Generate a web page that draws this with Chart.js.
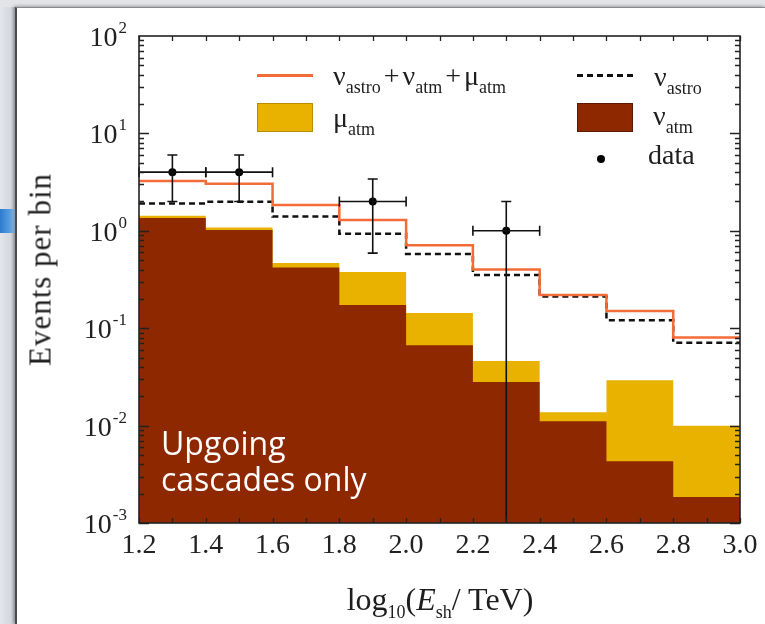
<!DOCTYPE html>
<html>
<head>
<meta charset="utf-8">
<script src="https://cdn.jsdelivr.net/npm/chart.js@4.4.1/dist/chart.umd.min.js"></script>
<style>
    html, body { margin: 0; padding: 0; }
    body {
        width: 765px; height: 624px; overflow: hidden; position: relative;
        background: linear-gradient(to right, #e4e6ea 0px, #d3d6dc 11px, #b9bdc4 14px);
        font-family: "Liberation Serif", serif;
    }
    #panel {
        position: absolute; left: 15px; top: 7px; right: 0; bottom: 0;
        background: #fff; border-left: 2px solid #4a4a4a; border-top: 1px solid #8a8a8a;
        box-shadow: -1px -1px 3px rgba(0, 0, 0, 0.3);
    }
    #topStrip { position: absolute; left: 0; top: 0; width: 765px; height: 7px; background: #e2e4e8; }
    #stripe {
        position: absolute; left: 0; top: 209px; width: 15px; height: 24px;
        background: linear-gradient(to right, #2c7bd0, #5d9fe0 70%, #9cc6ee);
    }
    #chartBox { position: absolute; left: 0; top: 0; width: 765px; height: 624px; }
    .txt { position: absolute; white-space: nowrap; color: #1e1e1e; line-height: 1; z-index: 2; }
    .txt sub { font-size: 18px; vertical-align: -8px; line-height: 0; }
    .txt .plus { margin: 0 3px; }
    .sym { position: absolute; z-index: 2; }
</style>
</head>
<body>
<div id="topStrip"></div>
<div id="stripe"></div>
<div id="panel"></div>
<div id="chartBox"><canvas id="spectrumChart" width="765" height="624"></canvas></div>

<!-- legend -->
<div class="sym" style="left:257px; top:74px; width:56px; height:3px; background:#f36c38;"></div>
<div class="txt" style="left:333px; top:62px; font-size:28px;">ν<sub>astro</sub><span class="plus">+</span>ν<sub>atm</sub><span class="plus">+</span>μ<sub>atm</sub></div>
<div class="sym" style="left:577px; top:74px; width:58px; height:3px; background:repeating-linear-gradient(to right, #111 0 6px, transparent 6px 10px);"></div>
<div class="txt" style="left:654px; top:63px; font-size:28px;">ν<sub>astro</sub></div>
<div class="sym" style="left:257px; top:103px; width:54px; height:27px; background:#e9b200; border:1px solid #b88c00;"></div>
<div class="txt" style="left:333px; top:104px; font-size:28px;">μ<sub>atm</sub></div>
<div class="sym" style="left:577px; top:103px; width:54px; height:27px; background:#8e2800; border:1px solid #5e1a00;"></div>
<div class="txt" style="left:653px; top:102px; font-size:28px;">ν<sub>atm</sub></div>
<div class="sym" style="left:597px; top:155px; width:8px; height:8px; border-radius:50%; background:#000;"></div>
<div class="txt" style="left:648px; top:141px; font-size:28px;">data</div>

<!-- axis titles -->
<div class="txt" style="left:-110px; top:254px; width:300px; text-align:center; font-size:31px; letter-spacing:1px; transform:rotate(-90deg);">Events per bin</div>
<div class="txt" style="left:240px; top:583px; width:400px; text-align:center; font-size:32px;">log<sub>10</sub>(<i>E</i><sub>sh</sub>/ TeV)</div>

<!-- annotation -->
<div class="txt" style="left:161px; top:425px; font-family:'Open Sans', sans-serif; font-size:32px; line-height:36px; color:#fff;">Upgoing<br>cascades only</div>

<script>
// bin edges in log10(E/TeV)
const binEdges = [1.2, 1.4, 1.6, 1.8, 2.0, 2.2, 2.4, 2.6, 2.8, 3.0];

// expected events per bin
const nuAtm    = [1.35, 1.02, 0.42, 0.173, 0.067, 0.028, 0.0111, 0.0043, 0.00185];
const muAtm    = [0.08, 0.06, 0.047, 0.205, 0.076, 0.018, 0.0026, 0.025, 0.0081];
const nuAstro  = [1.91, 1.99, 1.40, 0.93, 0.577, 0.352, 0.211, 0.121, 0.071];
const totalSum = [3.24, 3.05, 1.84, 1.29, 0.71, 0.40, 0.219, 0.150, 0.0805];

// observed data with error bars
const dataX   = [1.3, 1.5, 1.9, 2.3];
const dataY   = [4, 4, 2, 1];
const dataXLo = [1.2, 1.4, 1.8, 2.2];
const dataXHi = [1.4, 1.6, 2.0, 2.4];
const dataYLo = [2.0, 2.0, 0.59, 0];
const dataYHi = [6.0, 6.0, 3.4, 2.0];

const xTickLabels = [1.2, 1.4, 1.6, 1.8, 2.0, 2.2, 2.4, 2.6, 2.8, 3.0];
const yDecades = [-3, -2, -1, 0, 1, 2];

// histogram as step points: one per left edge plus the closing edge
function stepPoints(values) {
    return binEdges.map((x, i) => ({ x: x, y: values[Math.min(i, values.length - 1)] }));
}

const muStack = nuAtm.map((v, i) => v + muAtm[i]);

// error bars, inward ticks, frame and y labels
const framePlugin = {
    id: "frame",
    afterDatasetsDraw(chart) {
        const { ctx, chartArea: a, scales: { x, y } } = chart;
        ctx.save();
        ctx.strokeStyle = "#111";
        ctx.lineWidth = 1.6;
        dataX.forEach((v, i) => {
            const px = x.getPixelForValue(v);
            const py = y.getPixelForValue(dataY[i]);
            const x0 = x.getPixelForValue(dataXLo[i]);
            const x1 = x.getPixelForValue(dataXHi[i]);
            const yTop = y.getPixelForValue(dataYHi[i]);
            const yBot = dataYLo[i] > 0 ? y.getPixelForValue(dataYLo[i]) : a.bottom;
            ctx.beginPath();
            ctx.moveTo(x0, py); ctx.lineTo(x1, py);
            ctx.moveTo(x0, py - 5); ctx.lineTo(x0, py + 5);
            ctx.moveTo(x1, py - 5); ctx.lineTo(x1, py + 5);
            ctx.moveTo(px, yTop); ctx.lineTo(px, yBot);
            ctx.moveTo(px - 5, yTop); ctx.lineTo(px + 5, yTop);
            if (dataYLo[i] > 0) { ctx.moveTo(px - 5, yBot); ctx.lineTo(px + 5, yBot); }
            ctx.stroke();
        });
        ctx.restore();
    },
    afterDraw(chart) {
        const { ctx, chartArea: a, scales: { x, y } } = chart;
        ctx.save();
        ctx.strokeStyle = "#222";
        ctx.lineWidth = 1.3;
        ctx.beginPath();
        // x ticks every 0.1 on top and bottom
        for (let i = 0; i <= 18; i++) {
            const px = Math.round(x.getPixelForValue(1.2 + i * 0.1)) + 0.5;
            ctx.moveTo(px, a.bottom); ctx.lineTo(px, a.bottom - 5);
            ctx.moveTo(px, a.top); ctx.lineTo(px, a.top + 5);
        }
        // log ticks on left and right
        for (let k = -3; k <= 1; k++) {
            for (let m = 1; m <= 9; m++) {
                const py = Math.round(y.getPixelForValue(m * Math.pow(10, k))) + 0.5;
                const len = m === 1 ? 10 : 5;
                ctx.moveTo(a.left, py); ctx.lineTo(a.left + len, py);
                ctx.moveTo(a.right, py); ctx.lineTo(a.right - len, py);
            }
        }
        ctx.stroke();
        ctx.lineWidth = 1.6;
        ctx.strokeRect(a.left, a.top, a.right - a.left, a.bottom - a.top);

        // y labels 10^k
        ctx.fillStyle = "#222";
        ctx.textAlign = "right";
        ctx.textBaseline = "alphabetic";
        yDecades.forEach(k => {
            const py = y.getPixelForValue(Math.pow(10, k));
            const sup = String(k);
            const rx = a.left - 12;
            ctx.font = "17px 'Liberation Serif'";
            const w = ctx.measureText(sup).width;
            ctx.fillText(sup, rx, py - 3);
            ctx.font = "28px 'Liberation Serif'";
            ctx.fillText("10", rx - w - 1, py + 10);
        });
        ctx.restore();
    }
};

const chartCtx = document.getElementById("spectrumChart").getContext("2d");
new Chart(chartCtx, {
    type: "line",
    data: {
        datasets: [
            {
                label: "data",
                data: dataX.map((v, i) => ({ x: v, y: dataY[i] })),
                showLine: false,
                pointRadius: 4,
                pointBackgroundColor: "#000",
                pointBorderWidth: 0
            },
            {
                label: "astro + atm + mu",
                data: stepPoints(totalSum),
                stepped: true,
                borderColor: "#f36c38",
                borderWidth: 2.5,
                pointRadius: 0,
                fill: false
            },
            {
                label: "astro",
                data: stepPoints(nuAstro),
                stepped: true,
                borderColor: "#111",
                borderDash: [6, 4],
                borderWidth: 2.5,
                pointRadius: 0,
                fill: false
            },
            {
                label: "nu atm",
                data: stepPoints(nuAtm),
                stepped: true,
                borderWidth: 0,
                backgroundColor: "#8e2800",
                pointRadius: 0,
                fill: "start"
            },
            {
                label: "mu atm",
                data: stepPoints(muStack),
                stepped: true,
                borderWidth: 0,
                backgroundColor: "#e9b200",
                pointRadius: 0,
                fill: "start"
            }
        ]
    },
    options: {
        responsive: false,
        animation: false,
        devicePixelRatio: 1,
        layout: { padding: { top: 36, right: 25, left: 0, bottom: 0 } },
        plugins: {
            legend: { display: false },
            tooltip: { enabled: false }
        },
        scales: {
            x: {
                type: "linear",
                min: 1.2,
                max: 3.0,
                grid: { display: false, drawTicks: false },
                border: { display: false },
                afterBuildTicks: s => { s.ticks = xTickLabels.map(v => ({ value: v })); },
                afterFit: s => { s.height = 101; },
                ticks: {
                    callback: v => Number(v).toFixed(1),
                    font: { family: "Liberation Serif", size: 28 },
                    color: "#222",
                    padding: 6,
                    maxRotation: 0,
                    autoSkip: false
                }
            },
            y: {
                type: "logarithmic",
                min: 1e-3,
                max: 100,
                grid: { display: false, drawTicks: false },
                border: { display: false },
                ticks: { display: false },
                afterFit: s => { s.width = 139; }
            }
        }
    },
    plugins: [framePlugin]
});
</script>
</body>
</html>
